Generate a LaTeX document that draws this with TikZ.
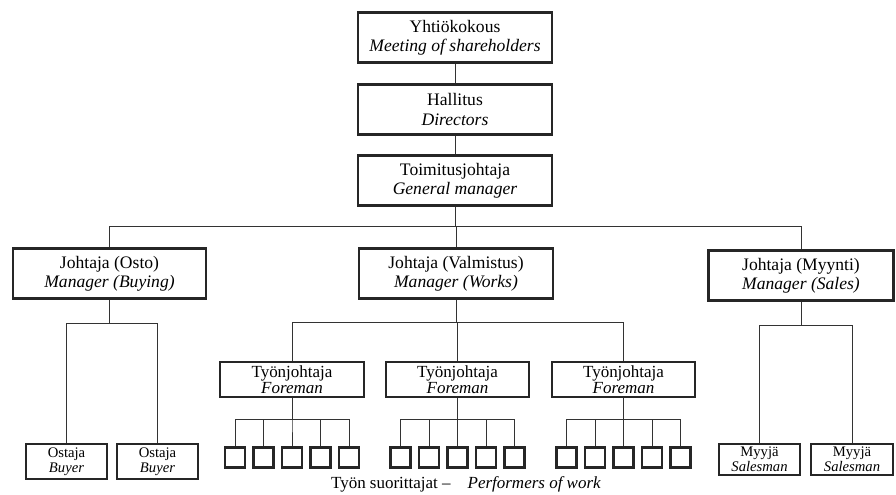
\documentclass[tikz,border=0pt]{standalone}
\usepackage{fontspec}
\setmainfont{Liberation Serif}
\usetikzlibrary{positioning}
\tikzset{
  office/.style={rectangle, draw=black!85, line width=1.8pt, fill=white, align=center,
    inner sep=1pt, minimum width=5.8cm, minimum height=1.5cm, font=\fontsize{15}{16.5}\selectfont},
  foreman/.style={office, minimum width=4.3cm, minimum height=1.05cm, font=\fontsize{14.5}{13.8}\selectfont},
  staff/.style={office, minimum width=2.45cm, minimum height=1.03cm, font=\fontsize{12.5}{12.8}\selectfont},
  worker/.style={rectangle, draw=black!85, line width=1.8pt, minimum size=0.6cm, inner sep=0pt},
  link/.style={draw=black!80, line width=0.7pt},
  note/.style={font=\fontsize{14.5}{16}\selectfont},
}
\begin{document}
\begin{tikzpicture}[x=0.03cm, y=-0.03cm]
  \useasboundingbox (0,0) rectangle (896,494);
  \node[office] (agm) at (455,37.5) {Yhtiökokous\\\textit{Meeting of shareholders}};
  \node[office] (board) at (455,109.5) {Hallitus\\\textit{Directors}};
  \node[office] (gm) at (455,180.5) {Toimitusjohtaja\\\textit{General manager}};
  \node[office] (osto) at (109.5,273.5) {Johtaja (Osto)\\\textit{Manager (Buying)}};
  \node[office] (valm) at (456,273.5) {Johtaja (Valmistus)\\\textit{Manager (Works)}};
  \node[office, minimum width=5.55cm] (myynti) at (801,275.5) {Johtaja (Myynti)\\\textit{Manager (Sales)}};
  \draw[link] (agm) -- (board);
  \draw[link] (board) -- (gm);
  \foreach \m in {osto,valm,myynti}
    \draw[link] (gm.south) -- ++(0,20) -| (\m.north);
  \foreach \b/\bx in {1/66.5,2/157.5} {
    \node[staff] (buyer\b) at (\bx,461.5) {Ostaja\\\textit{Buyer}};
    \draw[link] (osto.south) -- ++(0,24) -| (buyer\b.north);
  }
  \foreach \s/\sx in {1/759.5,2/852} {
    \node[staff, minimum height=0.93cm] (seller\s) at (\sx,459.5) {Myyjä\\\textit{Salesman}};
    \draw[link] (myynti.south) -- ++(0,24) -| (seller\s.north);
  }
  \foreach \f/\fx in {1/292,2/457.5,3/623.5} {
    \node[foreman] (fm\f) at (\fx,379.5) {Työnjohtaja\\\textit{Foreman}};
    \draw[link] (valm.south) -- ++(0,23) -| (fm\f.north);
    \foreach \k in {1,...,5} {
      \node[worker] (w\f\k) at (\fx+28.5*\k-85.5,457.5) {};
      \draw[link] (fm\f.south) -- ++(0,21) -| (w\f\k.north);
    }
  }
  \node[note] (crew) at (466,484) {Työn suorittajat --\quad\textit{Performers of work}};
\end{tikzpicture}
\end{document}
